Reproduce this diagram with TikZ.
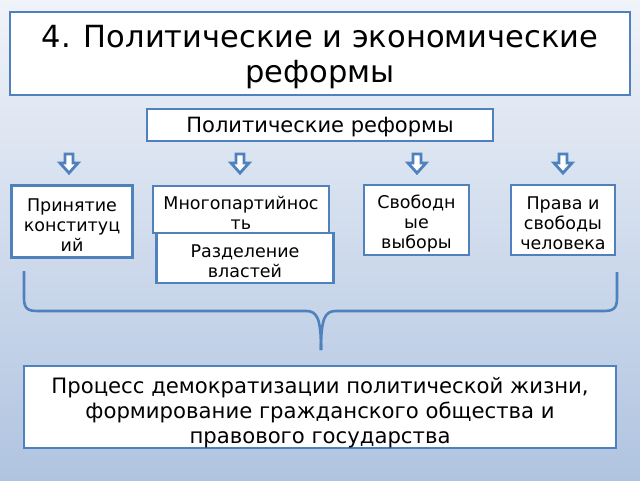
\documentclass[tikz,border=0pt]{standalone}
\usepackage{fontspec}
\setmainfont{DejaVu Sans}
\definecolor{bord}{RGB}{79,129,189}
\definecolor{bgtop}{RGB}{240,243,249}
\definecolor{bgbot}{RGB}{176,196,224}
\tikzset{
  frame/.style={draw=bord, line width=2.8pt, fill=white, inner sep=0pt},
  txt/.style={align=center, inner sep=0pt, font=\fontsize{17.5}{20}\selectfont},
  darrow/.style={draw=bord, line width=2.8pt, fill=white, line join=miter},
  brace/.style={draw=bord, line width=2.6pt}
}
\begin{document}
\begin{tikzpicture}[x=1pt,y=-1pt]
\shade[top color=bgtop, bottom color=bgbot] (0,0) rectangle (640,480);
\useasboundingbox (0,0) rectangle (640,480);

\node[frame, minimum width=620pt, minimum height=83pt] (titlebox) at (320,53.5) {};
\node[txt, font=\fontsize{30.5}{35}\selectfont] (title) at ([yshift=-4pt]titlebox.center) {4. Политические и экономические\\реформы};

\node[frame, minimum width=346pt, minimum height=32pt] (polbox) at (320,125) {};
\node[txt, font=\fontsize{21}{24}\selectfont] (pol) at ([yshift=-2.5pt]polbox.center) {Политические реформы};

\node[frame, minimum width=121pt, minimum height=72pt] (prinbox) at (72,221.5) {};
\node[txt] (prin) at ([yshift=-3.5pt]prinbox.center) {Принятие\\конституц\\ий};

\node[frame, minimum width=176pt, minimum height=47pt] (mnogobox) at (241,209.5) {};
\node[txt] (mnogo) at ([yshift=-3pt]mnogobox.center) {Многопартийнос\\ть};

\node[frame, minimum width=177pt, minimum height=50pt] (razdbox) at (245,258) {};
\node[txt] (razd) at ([yshift=-3pt]razdbox.center) {Разделение\\властей};

\node[frame, minimum width=105pt, minimum height=70pt] (svobbox) at (416.5,220) {};
\node[txt] (svob) at ([yshift=-3.5pt]svobbox.center) {Свободн\\ые\\выборы};

\node[frame, minimum width=104pt, minimum height=70pt] (pravabox) at (563,220) {};
\node[txt] (prava) at ([yshift=-3.5pt]pravabox.center) {Права и\\свободы\\человека};

\node[frame, minimum width=592pt, minimum height=82pt] (resbox) at (320,407) {};
\node[txt, font=\fontsize{21.2}{25}\selectfont] (res) at ([yshift=-5.5pt]resbox.center) {Процесс демократизации политической жизни,\\формирование гражданского общества и\\правового государства};

\foreach \cx in {69,240,417,563}{
  \draw[darrow] (\cx-4,154) -- (\cx+4,154) -- (\cx+4,163) -- (\cx+9,163) -- (\cx,173) -- (\cx-9,163) -- (\cx-4,163) -- cycle;
}

\coordinate (bl) at (24,271);
\coordinate (br) at (617,272);
\coordinate (tip) at (321,350);
\draw[brace] (bl) -- (24,298) .. controls (24,309) and (28,311) .. (38,311) -- (306,311) .. controls (317,311) and (321,318) .. (tip);
\draw[brace] (br) -- (617,298) .. controls (617,309) and (613,311) .. (603,311) -- (336,311) .. controls (325,311) and (321,318) .. (tip);
\end{tikzpicture}
\end{document}
